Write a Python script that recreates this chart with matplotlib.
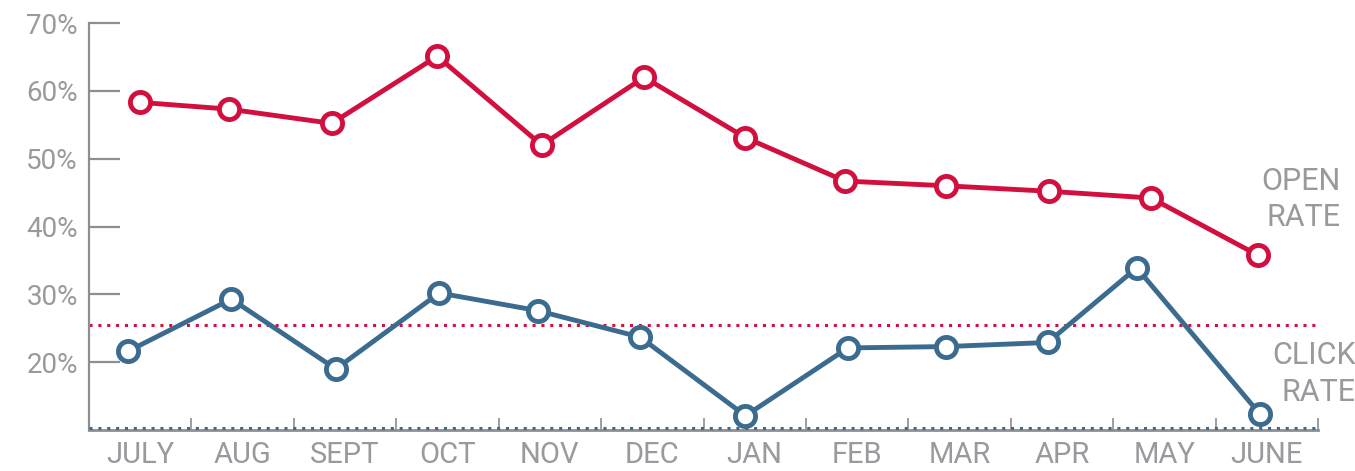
import matplotlib
matplotlib.use("Agg")
import matplotlib.pyplot as plt
from matplotlib.ticker import FixedLocator, PercentFormatter

months = ["JULY", "AUG", "SEPT", "OCT", "NOV", "DEC",
          "JAN", "FEB", "MAR", "APR", "MAY", "JUNE"]

# point positions in category units (reference points sit slightly off centre)
open_x = [0.0, 0.87, 1.87, 2.90, 3.92, 4.92, 5.91, 6.88, 7.87, 8.87, 9.87, 10.91]
open_rate = [58.3, 57.3, 55.2, 65.1, 52.0, 62.0, 53.1, 46.7, 46.0, 45.2, 44.2, 35.8]

click_x = [-0.12, 0.89, 1.91, 2.92, 3.88, 4.88, 5.91, 6.91, 7.87, 8.86, 9.73, 10.93]
click_rate = [21.6, 29.3, 19.0, 30.2, 27.6, 23.7, 12.1, 22.1, 22.3, 22.9, 33.9, 12.4]

open_avg = 25.5   # red dotted reference line
y_ticks = [20, 30, 40, 50, 60, 70]

RED = "#d2103f"
BLUE = "#3b6b8e"
GRAY = "#9a9a9e"
AXIS = "#8e8e92"

plt.rcParams["font.family"] = ["Roboto", "DejaVu Sans"]

fig = plt.figure(figsize=(13.55, 4.71), dpi=100)
ax = fig.add_axes([89 / 1355, 41 / 471, 1229 / 1355, 407 / 471])

marker_style = dict(marker="o", markersize=14.5, markerfacecolor="white",
                    markeredgewidth=3.5, linewidth=3.5, zorder=4)
ax.plot(open_x, open_rate, color=RED, markeredgecolor=RED, **marker_style)
ax.plot(click_x, click_rate, color=BLUE, markeredgecolor=BLUE, **marker_style)

ax.axhline(open_avg, color=RED, linestyle=(0, (1, 1.9)), linewidth=2.2, zorder=2)
ax.axhline(10.3, color=BLUE, linestyle=(0, (1, 1.9)), linewidth=2.2, zorder=3)

ax.set_xlim(-0.5, len(months) - 0.5)
ax.set_ylim(10, 70)

for s in ["top", "right"]:
    ax.spines[s].set_visible(False)
ax.spines["left"].set_color(AXIS)
ax.spines["left"].set_linewidth(1.6)
ax.spines["left"].set_bounds(10, 70)
ax.spines["bottom"].set_color(AXIS)
ax.spines["bottom"].set_linewidth(2)

ax.yaxis.set_major_locator(FixedLocator(y_ticks))
ax.yaxis.set_major_formatter(PercentFormatter(decimals=0))
ax.tick_params(axis="y", direction="in", length=22, width=1.6, color=AXIS,
               labelcolor=GRAY, labelsize=20, pad=8)

ax.set_xticks(range(len(months)))
ax.set_xticklabels(months)
ax.set_xticks([i + 0.5 for i in range(len(months))], minor=True)
ax.tick_params(axis="x", which="major", length=0, labelcolor=GRAY,
               labelsize=21, pad=8)
ax.tick_params(axis="x", which="minor", direction="in", length=9, width=1.2,
               color=AXIS)

ax.text(11.33, 44.0, "OPEN\nRATE", ha="center", va="center", color=GRAY,
        fontsize=22, multialignment="right", linespacing=1.3, clip_on=False)
ax.text(11.46, 18.3, "CLICK\nRATE", ha="center", va="center", color=GRAY,
        fontsize=22, multialignment="right", linespacing=1.35, clip_on=False)

fig.savefig("out.png", dpi=100)
